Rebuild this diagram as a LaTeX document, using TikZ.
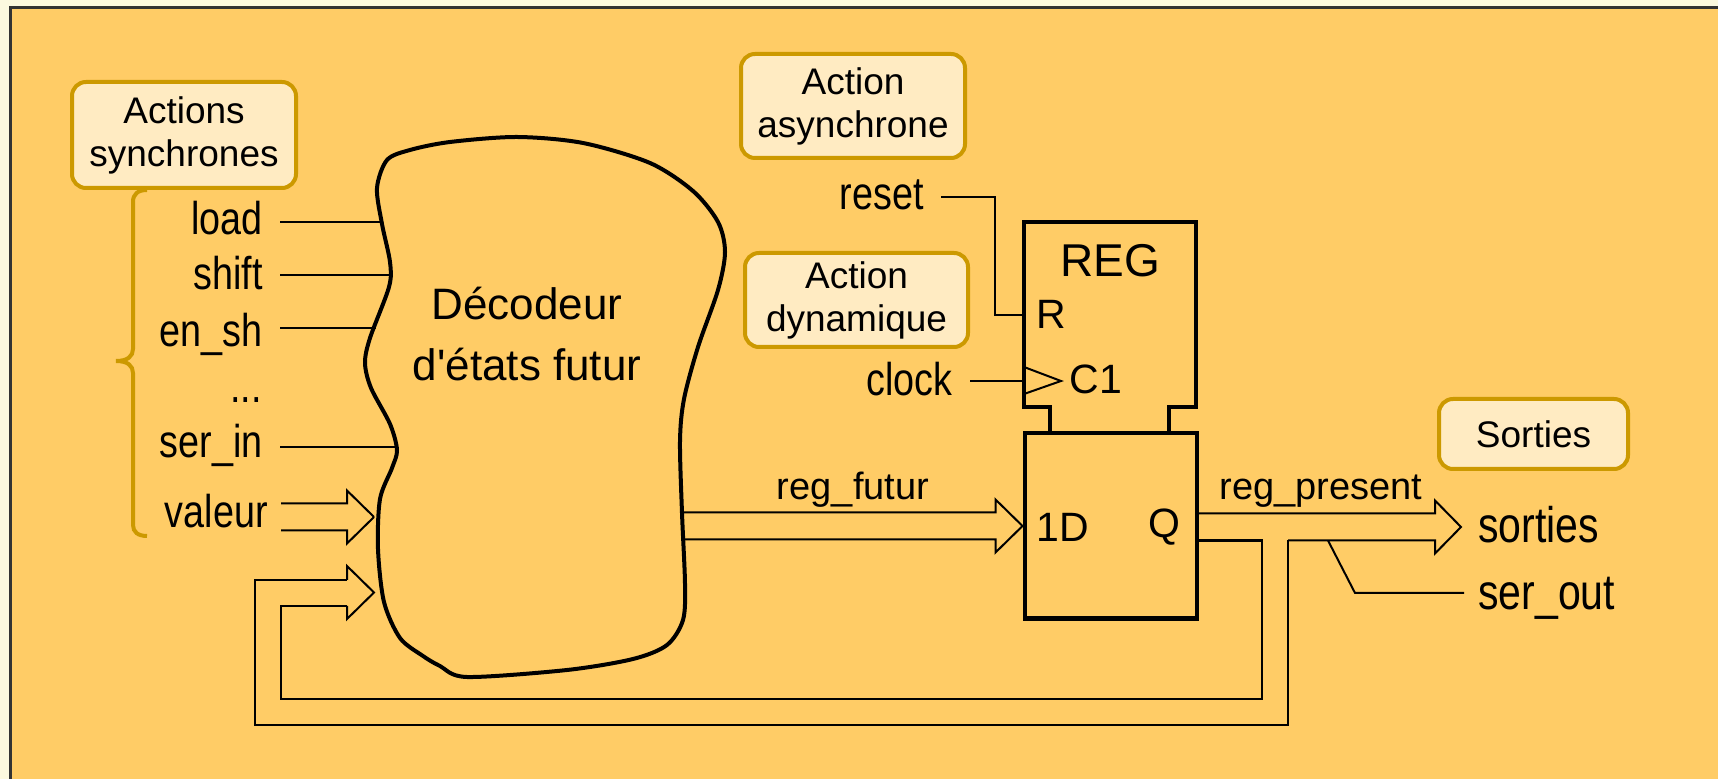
\documentclass[tikz,border=0pt]{standalone}
\usepackage{fontspec}
\setmainfont{Liberation Sans}
\newfontfamily\etroit{Liberation Sans}[FakeStretch=0.82]
\usepackage{tikz}
\usetikzlibrary{positioning}
\definecolor{fondclair}{HTML}{FCF9DF}
\definecolor{fondorange}{HTML}{FFCC66}
\definecolor{bullefond}{HTML}{FFEBC2}
\definecolor{bullebord}{HTML}{CC9900}

\tikzset{
    bulle/.style={draw=bullebord, line width=2pt, fill=bullefond, rounded corners=7pt,
        align=center, inner sep=0pt, font=\fontsize{18.5}{21.5}\selectfont},
    signal/.style={anchor=base east, inner ysep=0pt, inner xsep=8.5pt,
        font=\etroit\fontsize{23}{26}\selectfont},
    sortie/.style={anchor=base west, inner ysep=0pt, inner xsep=7pt,
        font=\etroit\fontsize{25}{28}\selectfont},
    bus/.style={anchor=base, inner sep=0pt, font=\fontsize{19}{22}\selectfont},
    broche/.style={inner sep=0pt, font=\fontsize{20.5}{23}\selectfont},
    titre/.style={align=center, inner sep=0pt, font=\fontsize{22}{30.5}\selectfont},
    fil/.style={line width=1pt},
    boucle/.style={line width=1.3pt},
    boite/.style={line width=2.2pt},
    decodeur/.style={line width=2pt},
    accolade/.style={draw=bullebord, line width=2pt},
}

\begin{document}
\begin{tikzpicture}[x=0.5pt, y=-0.5pt]
    % Fond et cadre
    \useasboundingbox (0,0) rectangle (1718,779);
    \fill[fondclair] (0,0) rectangle (1718,779);
    \fill[fondorange] (10.5,7.5) rectangle (1718,779);
    \draw[line width=1.25pt, black!80] (10.5,779) -- (10.5,7.5) -- (1718,7.5);

    % Accolade
    \draw[accolade] (147,190) .. controls (138,190) and (133,194) .. (133,202) -- (133,349)
        .. controls (133,356) and (128,361) .. (116,361) .. controls (128,361) and (133,366) .. (133,373)
        -- (133,525) .. controls (133,532) and (138,536) .. (147,536);

    % Bulles
    \node[bulle, minimum width=112pt, minimum height=53pt] (sync) at (184,135) {Actions\\synchrones};
    \node[bulle, minimum width=112pt, minimum height=52pt] (async) at (853,106) {Action\\asynchrone};
    \node[bulle, minimum width=111.5pt, minimum height=47pt] (dyn) at (856.5,300) {Action\\dynamique};
    \node[bulle, minimum width=94.5pt, minimum height=35pt] (bsort) at (1533.5,434) {Sorties};

    % Decodeur
    \draw[decodeur] plot[smooth cycle, tension=0.5] coordinates {
        (377,188) (387,160) (410,150) (450,142) (517,137) (583,143) (650,163) (693,191)
        (718,222) (725,252) (718,290) (698,347) (684,399) (680,441) (682,513) (685,584)
        (683,620) (667,645) (633,659) (567,670) (467,677) (440,666) (423,656) (400,638)
        (384,602) (378,549) (380,499) (392,468) (397,450) (390,424) (371,388) (365,363)
        (370,338) (389,287) (390,262) (382,224)};
    \node[titre] (dec) at (527,334.5) {Décodeur\\d\textquotesingle états futur};

    % Entrees
    \node[signal] (sload) at (280,235) {load};
    \node[signal] (sshift) at (280,290) {shift};
    \node[signal] (sensh) at (280,347) {en\_sh};
    \node[signal] (setc) at (279,403) {...};
    \node[signal] (sserin) at (280,458) {ser\_in};
    \node[signal] (svaleur) at (285,528) {valeur};

    \coordinate (dload) at (381,222);
    \coordinate (dshift) at (389,275);
    \coordinate (densh) at (376,328);
    \coordinate (dserin) at (395,447);
    \coordinate (dval) at (374,517);
    \coordinate (dret) at (374,592.5);

    \draw[fil] (sload.east |- dload) -- (dload);
    \draw[fil] (sshift.east |- dshift) -- (dshift);
    \draw[fil] (sensh.east |- densh) -- (densh);
    \draw[fil] (sserin.east |- dserin) -- (dserin);
    \draw[fil] (dval) -- ++(-27,-26.5) -- ++(0,13) -- ++(-66,0);
    \draw[fil] (dval) -- ++(-27,26.5) -- ++(0,-13) -- ++(-66,0);

    % Registre
    \node[boite, draw, minimum width=86.15pt, minimum height=92.7pt] (bascule) at (1110.85,526) {};
    \draw[boite] (1050,433) -- (1050,407) -- (1024,407) -- (1024,222) -- (1196,222)
        -- (1196,407) -- (1169,407) -- (1169,433);
    \node[broche, font=\fontsize{23}{25}\selectfont] (reg) at (1110,261) {REG};
    \node[broche] (pinR) at (1051,314) {R};
    \node[broche] (pinC) at (1096,379) {C1};
    \node[broche] (pinD) at (1063,527) {1D};
    \node[broche] (pinQ) at (1164,527) {Q};

    % reset et clock
    \node[signal] (sreset) at (941,210) {reset};
    \node[signal] (sclock) at (970,396) {clock};
    \coordinate (brR) at (1023,315);
    \coordinate (brC) at (1023,381);
    \draw[fil] (sreset.east |- 0,197) -- (995,197) |- (brR);
    \draw[fil] (sclock.east |- brC) -- (brC);
    \draw[fil] (1024,367) -- (1061,381) -- (1024,394);

    % reg_futur
    \draw[fil] (bascule.west) -- ++(-27,-26.5) -- ++(0,13) -- ++(-312,0);
    \draw[fil] (bascule.west) -- ++(-27,26.5) -- ++(0,-13) -- ++(-312,0);
    \node[bus] (regfutur) at (853,500) {reg\_futur};

    % reg_present et retours
    \node[sortie] (ssorties) at (1464,543) {sorties};
    \node[sortie] (sserout) at (1464,610) {ser\_out};
    \node[bus] (regpresent) at (1321,500) {reg\_present};
    \coordinate (qhaut) at (1199,513.5);
    \coordinate (qbas) at (1199,540.5);
    \coordinate (tsort) at (1461,527);
    \coordinate (tap) at (1328,540.5);

    \draw[fil] (qhaut) -- (1435,513.5) -- (1435,500.5) -- (tsort) -- (1435,553.5) -- (1435,540.5) -- (1288,540.5);
    \draw[boucle] (1288,540.5) -- (1288,725) -- (255,725) -- (255,580) -- (347,580);
    \draw[fil] (347,580) -- (347,566) -- (dret) -- (347,619) -- (347,606);
    \draw[boucle] (347,606) -- (281,606) -- (281,699) -- (1262,699) -- (1262,540.5) -- (qbas);
    \draw[fil] (tap) -- (1355,593) -- (sserout.west |- 0,593);

\end{tikzpicture}
\end{document}
